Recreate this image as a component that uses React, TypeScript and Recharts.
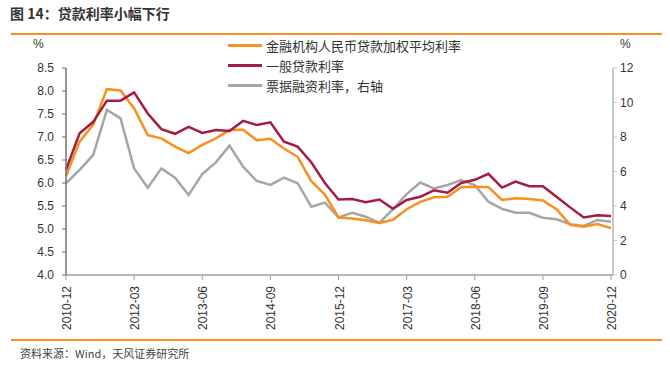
import { LineChart, Line, XAxis, YAxis } from "recharts";

const quarters = [
  "2010-12", "2011-03", "2011-06", "2011-09", "2011-12",
  "2012-03", "2012-06", "2012-09", "2012-12",
  "2013-03", "2013-06", "2013-09", "2013-12",
  "2014-03", "2014-06", "2014-09", "2014-12",
  "2015-03", "2015-06", "2015-09", "2015-12",
  "2016-03", "2016-06", "2016-09", "2016-12",
  "2017-03", "2017-06", "2017-09", "2017-12",
  "2018-03", "2018-06", "2018-09", "2018-12",
  "2019-03", "2019-06", "2019-09", "2019-12",
  "2020-03", "2020-06", "2020-09", "2020-12",
];

// 金融机构人民币贷款加权平均利率 (left axis, %)
const weightedRate = [
  6.15, 6.9, 7.27, 8.04, 8.01, 7.62, 7.04, 6.97, 6.79, 6.65,
  6.83, 6.97, 7.15, 7.16, 6.93, 6.96, 6.75, 6.57, 6.04, 5.75,
  5.25, 5.23, 5.19, 5.13, 5.2, 5.43, 5.59, 5.69, 5.7, 5.91,
  5.92, 5.91, 5.63, 5.67, 5.65, 5.62, 5.43, 5.09, 5.05, 5.11,
  5.02,
];

// 一般贷款利率 (left axis, %)
const generalRate = [
  6.29, 7.08, 7.33, 7.79, 7.79, 7.97, 7.51, 7.17, 7.07, 7.22,
  7.09, 7.15, 7.13, 7.35, 7.26, 7.32, 6.9, 6.79, 6.45, 6.0,
  5.64, 5.65, 5.58, 5.64, 5.44, 5.63, 5.7, 5.84, 5.79, 6.0,
  6.07, 6.2, 5.9, 6.03, 5.93, 5.93, 5.7, 5.47, 5.25, 5.3,
  5.28,
];

// 票据融资利率 (right axis, %)
const billRate = [
  5.32, 6.09, 6.96, 9.57, 9.08, 6.18, 5.06, 6.18, 5.64, 4.64,
  5.85, 6.53, 7.5, 6.28, 5.45, 5.22, 5.64, 5.32, 3.96, 4.2,
  3.34, 3.61, 3.38, 3.02, 3.82, 4.69, 5.36, 5.02, 5.22, 5.5,
  5.22, 4.25, 3.83, 3.61, 3.61, 3.32, 3.23, 2.94, 2.84, 3.19,
  3.09,
];

const leftTicks = [4, 4.5, 5, 5.5, 6, 6.5, 7, 7.5, 8, 8.5];
const rightTicks = [0, 2, 4, 6, 8, 10, 12];

const data = quarters.map((q, i) => ({
  q,
  weighted: weightedRate[i],
  general: generalRate[i],
  bill: billRate[i],
}));

const ORANGE = "#F7901E";
const MAROON = "#A51C42";
const GRAY = "#A6A6A6";
const FONT = "'Liberation Sans', 'Noto Sans CJK SC', sans-serif";
const CJK = "'Noto Sans CJK SC', sans-serif";

const legendItems = [
  { label: "金融机构人民币贷款加权平均利率", color: ORANGE },
  { label: "一般贷款利率", color: MAROON },
  { label: "票据融资利率，右轴", color: GRAY },
];

const XTick = (props: any) => {
  const { x, y, payload } = props;
  return (
    <text
      transform={`translate(${x + 1},${y + 4}) rotate(-90)`}
      textAnchor="end"
      dominantBaseline="central"
      fontSize={12}
      fontFamily={FONT}
      fill="#333"
    >
      {payload.value}
    </text>
  );
};

const textStyle = { fontFamily: FONT, fontSize: 12, color: "#333" };

export default function App() {
  return (
    <div
      style={{
        position: "absolute",
        left: 0,
        top: 0,
        width: 670,
        height: 368,
        background: "#fff",
      }}
    >
      <div
        style={{
          position: "absolute",
          left: 10,
          top: 3,
          fontFamily: CJK,
          fontWeight: 700,
          fontSize: 14,
          color: "#333",
        }}
      >
        图 14：贷款利率小幅下行
      </div>
      <div
        style={{
          position: "absolute",
          left: 11,
          top: 33,
          width: 651,
          height: 1.5,
          background: ORANGE,
        }}
      />
      <div style={{ position: "absolute", left: 33, top: 37, ...textStyle }}>%</div>
      <div style={{ position: "absolute", left: 620, top: 37, ...textStyle }}>%</div>

      <LineChart
        width={670}
        height={368}
        data={data}
        margin={{ top: 68, right: 0, left: 0, bottom: 28 }}
      >
        <XAxis
          dataKey="q"
          interval={4}
          tick={<XTick />}
          tickSize={5}
          height={65}
          padding={{ left: 0, right: 2 }}
          axisLine={{ stroke: "#A0A0A0", strokeWidth: 1.5 }}
          tickLine={{ stroke: "#A0A0A0" }}
        />
        <YAxis
          yAxisId="left"
          domain={[4, 8.5]}
          ticks={leftTicks}
          interval={0}
          tickFormatter={(v: number) => v.toFixed(1)}
          width={66}
          tickSize={4}
          tickMargin={8}
          tick={{ fontSize: 12, fill: "#333", fontFamily: FONT }}
          axisLine={{ stroke: "#707070", strokeWidth: 1.5 }}
          tickLine={{ stroke: "#707070" }}
        />
        <YAxis
          yAxisId="right"
          orientation="right"
          domain={[0, 12]}
          ticks={rightTicks}
          interval={0}
          width={57}
          tickSize={4}
          tickMargin={3}
          tick={{ fontSize: 12, fill: "#333", fontFamily: FONT, textAnchor: "start" }}
          axisLine={{ stroke: "#C8C8C8", strokeWidth: 2 }}
          tickLine={{ stroke: "#C8C8C8" }}
        />
        <Line
          yAxisId="right"
          dataKey="bill"
          stroke={GRAY}
          strokeWidth={2.5}
          dot={false}
          isAnimationActive={false}
        />
        <Line
          yAxisId="left"
          dataKey="weighted"
          stroke={ORANGE}
          strokeWidth={2.5}
          dot={false}
          isAnimationActive={false}
        />
        <Line
          yAxisId="left"
          dataKey="general"
          stroke={MAROON}
          strokeWidth={2.5}
          dot={false}
          isAnimationActive={false}
        />
      </LineChart>

      <div
        style={{
          position: "absolute",
          left: 228,
          top: 35,
          fontFamily: CJK,
          fontSize: 13,
          color: "#333",
        }}
      >
        {legendItems.map((it) => (
          <div
            key={it.label}
            style={{ display: "flex", alignItems: "center", height: 20 }}
          >
            <span
              style={{
                display: "inline-block",
                width: 34,
                height: 3,
                background: it.color,
                marginRight: 4,
              }}
            />
            <span>{it.label}</span>
          </div>
        ))}
      </div>

      <div
        style={{
          position: "absolute",
          left: 11,
          top: 339,
          width: 651,
          height: 1.5,
          background: ORANGE,
        }}
      />
      <div
        style={{
          position: "absolute",
          left: 20,
          top: 345,
          fontFamily: CJK,
          fontSize: 11,
          color: "#444",
        }}
      >
        资料来源：Wind，天风证券研究所
      </div>
    </div>
  );
}
